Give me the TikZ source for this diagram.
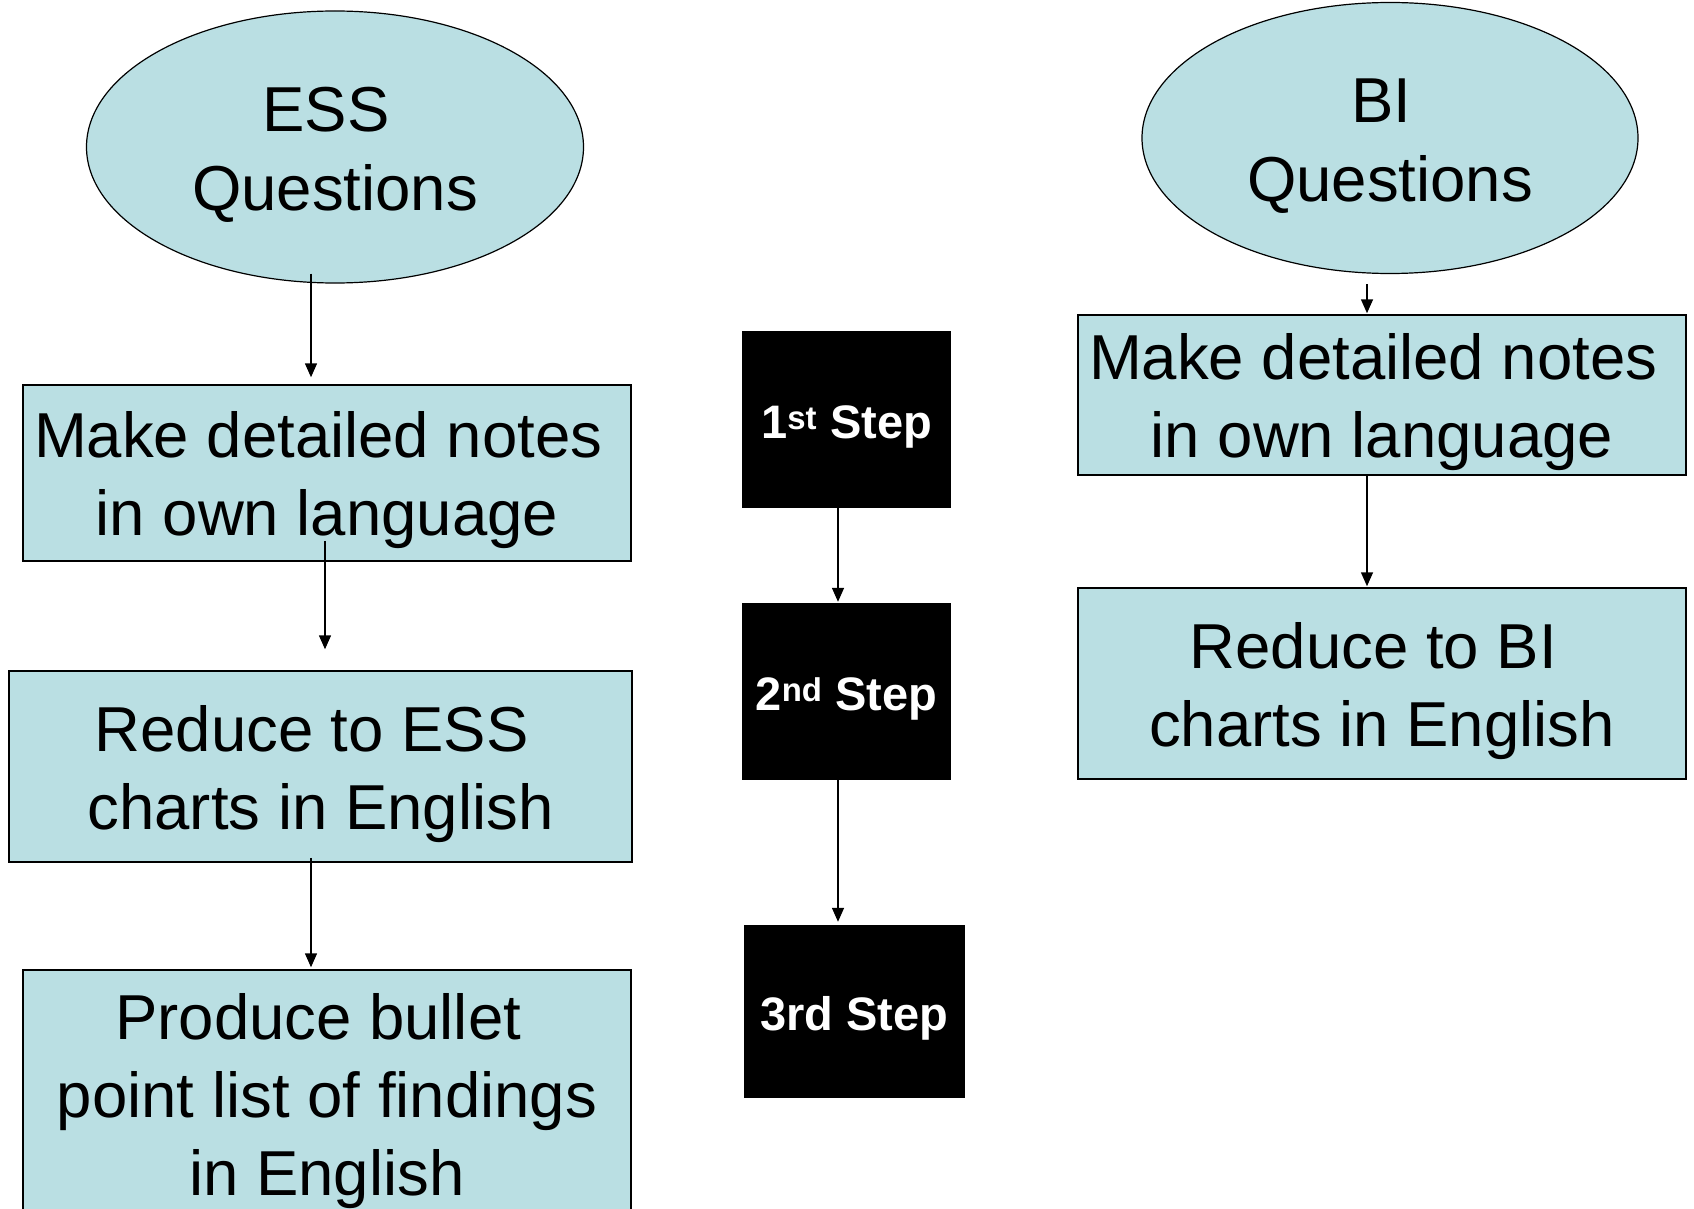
\documentclass[tikz,border=0pt]{standalone}
\usepackage{fontspec}
\setmainfont{Liberation Sans}
\usetikzlibrary{shapes.geometric,arrows.meta}
\definecolor{boxblue}{RGB}{186,223,227}
\newcommand\lowtext[1]{\raisebox{-8pt}[\height][\depth]{\begin{tabular}{@{}c@{}}#1\end{tabular}}}
\newcommand\lowstep[1]{\raisebox{-7pt}[\height][\depth]{#1}}
\newcommand\tsp{\kern.278em}
\tikzset{
  bluebox/.style={draw=black, line width=1.5pt, fill=boxblue, rectangle, inner sep=0pt, align=center,
    font=\fontsize{63.5}{78}\selectfont},
  blueell/.style={draw=black, line width=1.2pt, fill=boxblue, ellipse, inner sep=0pt, align=center,
    font=\fontsize{63.5}{79}\selectfont},
  stepbox/.style={fill=black, draw=none, rectangle, inner sep=0pt, align=center, text=white,
    font=\bfseries\fontsize{47}{56}\selectfont},
  arr/.style={draw=black, line width=1.5pt, -{Triangle[length=14pt,width=12pt]}}
}
\begin{document}
\begin{tikzpicture}[x=1pt,y=-1pt]
\useasboundingbox (0,0) rectangle (1694,1209);
\clip (0,0) rectangle (1694,1209);
\fill[white] (0,0) rectangle (1694,1209);

% left column
\node[blueell, minimum width=497pt, minimum height=272pt] (ess) at (335,147) {\lowtext{ESS\tsp\\Questions}};
\node[bluebox, minimum width=608pt, minimum height=176pt] (n1) at (327,473) {\lowtext{Make detailed notes\tsp\\in own language}};
\node[bluebox, minimum width=623pt, minimum height=191pt] (r1) at (320.5,766.5) {\lowtext{Reduce to ESS\tsp\\charts in English}};
\node[bluebox, minimum width=608pt, minimum height=248pt] (p1) at (327,1094) {\lowtext{Produce bullet\tsp\\point list of findings\\in English}};

% middle column
\node[stepbox, minimum width=209pt, minimum height=177pt] (s1) at (846.5,419.5) {\lowstep{1\textsuperscript{st} Step}};
\node[stepbox, minimum width=209pt, minimum height=177pt] (s2) at (846.5,691.5) {\lowstep{2\textsuperscript{nd} Step}};
\node[stepbox, minimum width=221pt, minimum height=173pt] (s3) at (854.5,1011.5) {\lowstep{3rd Step}};

% right column
\node[blueell, minimum width=496pt, minimum height=271pt] (bi) at (1390,138) {\lowtext{BI\tsp\\Questions}};
\node[bluebox, minimum width=608pt, minimum height=160pt] (n2) at (1382,395) {\lowtext{Make detailed notes\tsp\\in own language}};
\node[bluebox, minimum width=608pt, minimum height=191pt] (r2) at (1382,683.5) {\lowtext{Reduce to BI\tsp\\charts in English}};

% connectors
\draw[arr] ([shift={(-24pt,10pt)}]ess.south) -- ([shift={(-16pt,7pt)}]n1.north);
\draw[arr] ([shift={(-2pt,21pt)}]n1.south) -- ([shift={(4.5pt,21pt)}]r1.north);
\draw[arr] ([shift={(-9.5pt,5pt)}]r1.south) -- ([shift={(-16pt,2pt)}]p1.north);

\draw[arr] ([shift={(-8.5pt,0pt)}]s1.south) -- ([shift={(-8.5pt,1pt)}]s2.north);
\draw[arr] ([shift={(-8.5pt,0pt)}]s2.south) -- ([shift={(-16.5pt,3pt)}]s3.north);

\draw[arr] ([shift={(-23pt,-10pt)}]bi.south) -- ([shift={(-15pt,1pt)}]n2.north);
\draw[arr] ([shift={(-15pt,0pt)}]n2.south) -- ([shift={(-15pt,1pt)}]r2.north);
\end{tikzpicture}
\end{document}
